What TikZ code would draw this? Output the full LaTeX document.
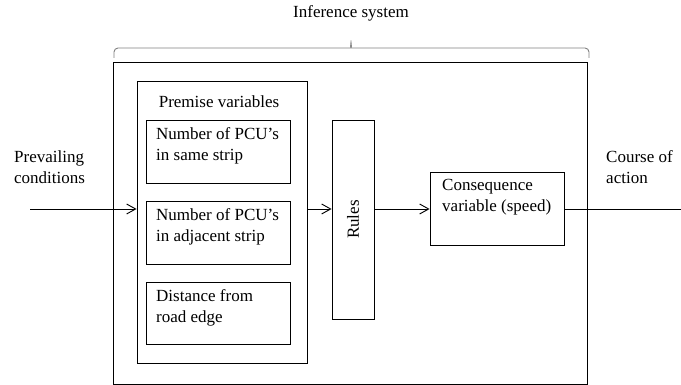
\documentclass[tikz,border=0pt]{standalone}
\usepackage{fontspec}
\setmainfont{Liberation Serif}
\usetikzlibrary{arrows.meta}

\begin{document}
\begin{tikzpicture}[x=1pt,y=-1pt,
    block/.style ={draw, line width=0.9pt, inner sep=0pt},
    caption/.style ={font=\fontsize{17}{21}\selectfont, align=left, inner sep=0pt},
    flow/.style ={line width=0.9pt, -{Straight Barb[length=9pt,width=10pt]}}]
   \useasboundingbox (0,0) rectangle (681,385);

   \node[block, minimum width=474pt, minimum height=322pt] (system) at (350,223) {};
   \node[block, minimum width=170pt, minimum height=282pt] (premise) at (222,222) {};
   \node[block, minimum width=144pt, minimum height=63pt] (samestrip) at (218,151.5) {};
   \node[block, minimum width=144pt, minimum height=63pt] (adjstrip) at (218,232.5) {};
   \node[block, minimum width=144pt, minimum height=62pt] (roadedge) at (218,313) {};
   \node[block, minimum width=42pt, minimum height=199pt] (rules) at (353,219.5) {};
   \node[block, minimum width=134pt, minimum height=73pt] (speed) at (497,208.5) {};

   \node[caption] (systemname) at (351,13) {Inference system};
   \node[caption] (premisename) at (219,102) {Premise variables};
   \node[caption, anchor=west] (samestripname) at (156,145.5) {Number of PCU's\\in same strip};
   \node[caption, anchor=west] (adjstripname) at (156,226.5) {Number of PCU's\\in adjacent strip};
   \node[caption, anchor=west] (roadedgename) at (156,307.5) {Distance from\\road edge};
   \node[caption, rotate=90] (rulesname) at (rules) {Rules};
   \node[caption, anchor=west] (speedname) at (442,197.5) {Consequence\\variable (speed)};
   \node[caption, anchor=west] (inname) at (14,167.5) {Prevailing\\conditions};
   \node[caption, anchor=west] (outname) at (606,167.5) {Course of\\action};

   \coordinate (in) at (30,209);
   \coordinate (out) at (681,209);

   % brace over the inference system
   \draw[gray, line width=0.9pt, rounded corners=4pt]
     (114,58) |- (347,48) .. controls (350,48) and (351,45) .. (351,38)
     .. controls (351,45) and (352,48) .. (355,48) -| (589,58);

   \draw[flow] (in) to (in -| premise.west);
   \draw[flow] (premise.east |- in) to (in -| rules.west);
   \draw[flow] (rules.east |- in) to (in -| speed.west);
   \draw[line width=0.9pt] (speed.east |- in) to (out);
 \end{tikzpicture}
\end{document}
